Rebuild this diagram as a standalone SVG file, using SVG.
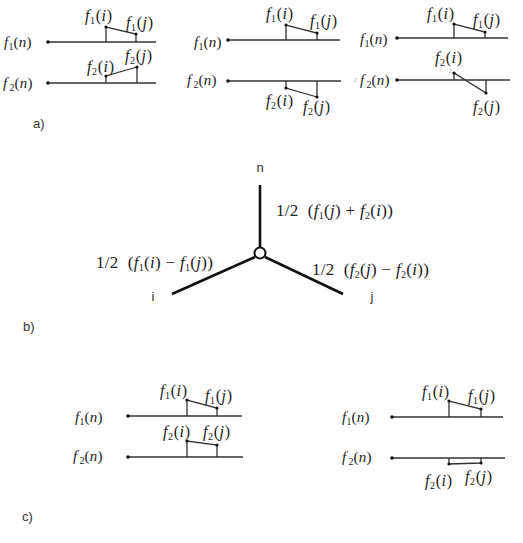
<svg xmlns="http://www.w3.org/2000/svg" width="523" height="543" viewBox="0 0 523 543">
<style>
.bg{fill:#fff}
.ln{stroke:#333;stroke-width:1.3;fill:none}
.bold{stroke:#111;stroke-width:2.6;fill:none;stroke-linecap:butt}
.dot{fill:#111}
.m{font-family:"Liberation Serif","Times New Roman",serif;font-size:16px;font-style:italic;fill:#222;letter-spacing:0.6px}
.mn{font-family:"Liberation Serif","Times New Roman",serif;font-size:15px;font-style:italic;fill:#222;letter-spacing:0.2px}
.eq{font-family:"Liberation Serif","Times New Roman",serif;font-size:17px;fill:#222;letter-spacing:0.3px}
.it{font-style:italic}
.u{font-style:normal}
.s{font-size:10px;font-style:normal}
.lbl{font-family:"Liberation Sans",Arial,sans-serif;font-size:13px;fill:#333}
.tiny{font-family:"Liberation Sans",Arial,sans-serif;font-size:5px;fill:#aaa}
</style>
<rect class="bg" x="0" y="0" width="523" height="543"/>

<!-- a) panel 1 -->
<g id="a1">
  <line class="ln" x1="48" y1="42" x2="156" y2="42"/>
  <circle class="dot" cx="48" cy="42" r="1.8"/>
  <polyline class="ln" points="106,42 106,27 136,34 136,42"/>
  <circle class="dot" cx="106" cy="27" r="1.6"/>
  <circle class="dot" cx="136" cy="34" r="1.6"/>
  <line class="ln" x1="48" y1="83" x2="156" y2="83"/>
  <circle class="dot" cx="48" cy="83" r="1.8"/>
  <polyline class="ln" points="106,83 106,76 137,67 137,83"/>
  <circle class="dot" cx="106" cy="76" r="1.6"/>
  <circle class="dot" cx="137" cy="67" r="1.6"/>
  <text class="mn" x="4" y="47">f<tspan class="s" dy="3">1</tspan><tspan class="u" dy="-3">(</tspan>n<tspan class="u">)</tspan></text>
  <text class="mn" x="3" y="88">f<tspan class="s" dx="2" dy="3">2</tspan><tspan class="u" dy="-3">(</tspan>n<tspan class="u">)</tspan></text>
  <text class="m" x="85" y="21">f<tspan class="s" dy="3">1</tspan><tspan class="u" dy="-3">(</tspan>i<tspan class="u">)</tspan></text>
  <text class="m" x="126" y="28">f<tspan class="s" dy="3">1</tspan><tspan class="u" dy="-3">(</tspan>j<tspan class="u">)</tspan></text>
  <text class="m" x="87" y="72">f<tspan class="s" dy="3">2</tspan><tspan class="u" dy="-3">(</tspan>i<tspan class="u">)</tspan></text>
  <text class="m" x="125" y="61">f<tspan class="s" dy="3">2</tspan><tspan class="u" dy="-3">(</tspan>j<tspan class="u">)</tspan></text>
  <text class="lbl" x="33" y="128">a)</text>
</g>

<!-- a) panel 2 -->
<g id="a2">
  <line class="ln" x1="228" y1="40" x2="340" y2="40"/>
  <circle class="dot" cx="228" cy="40" r="1.8"/>
  <polyline class="ln" points="286,40 286,25 317,33 317,40"/>
  <circle class="dot" cx="286" cy="25" r="1.6"/>
  <circle class="dot" cx="317" cy="33" r="1.6"/>
  <line class="ln" x1="228" y1="81" x2="341" y2="81"/>
  <circle class="dot" cx="228" cy="81" r="1.8"/>
  <polyline class="ln" points="286,81 286,88 317,97 317,81"/>
  <circle class="dot" cx="286" cy="88" r="1.6"/>
  <circle class="dot" cx="317" cy="97" r="1.6"/>
  <text class="mn" x="194" y="47">f<tspan class="s" dy="3">1</tspan><tspan class="u" dy="-3">(</tspan>n<tspan class="u">)</tspan></text>
  <text class="mn" x="187" y="85">f<tspan class="s" dx="2" dy="3">2</tspan><tspan class="u" dy="-3">(</tspan>n<tspan class="u">)</tspan></text>
  <text class="m" x="266" y="19">f<tspan class="s" dy="3">1</tspan><tspan class="u" dy="-3">(</tspan>i<tspan class="u">)</tspan></text>
  <text class="m" x="310" y="26">f<tspan class="s" dy="3">1</tspan><tspan class="u" dy="-3">(</tspan>j<tspan class="u">)</tspan></text>
  <text class="m" x="266" y="106">f<tspan class="s" dy="3">2</tspan><tspan class="u" dy="-3">(</tspan>i<tspan class="u">)</tspan></text>
  <text class="m" x="303" y="112">f<tspan class="s" dy="3">2</tspan><tspan class="u" dy="-3">(</tspan>j<tspan class="u">)</tspan></text>
</g>

<!-- a) panel 3 -->
<g id="a3">
  <line class="ln" x1="397" y1="38" x2="508" y2="38"/>
  <circle class="dot" cx="397" cy="38" r="1.8"/>
  <polyline class="ln" points="454,38 454,24 485,32 485,38"/>
  <circle class="dot" cx="454" cy="24" r="1.6"/>
  <circle class="dot" cx="485" cy="32" r="1.6"/>
  <line class="ln" x1="397" y1="80" x2="510" y2="80"/>
  <circle class="dot" cx="397" cy="80" r="1.8"/>
  <polyline class="ln" points="454,80 454,73 486,93 486,80"/>
  <circle class="dot" cx="454" cy="73" r="1.6"/>
  <circle class="dot" cx="486" cy="93" r="1.6"/>
  <text class="mn" x="360" y="44">f<tspan class="s" dy="3">1</tspan><tspan class="u" dy="-3">(</tspan>n<tspan class="u">)</tspan></text>
  <text class="mn" x="360" y="85">f<tspan class="s" dx="2" dy="3">2</tspan><tspan class="u" dy="-3">(</tspan>n<tspan class="u">)</tspan></text>
  <text class="m" x="427" y="19">f<tspan class="s" dy="3">1</tspan><tspan class="u" dy="-3">(</tspan>i<tspan class="u">)</tspan></text>
  <text class="m" x="473" y="25">f<tspan class="s" dy="3">1</tspan><tspan class="u" dy="-3">(</tspan>j<tspan class="u">)</tspan></text>
  <text class="m" x="435" y="63">f<tspan class="s" dy="3">2</tspan><tspan class="u" dy="-3">(</tspan>i<tspan class="u">)</tspan></text>
  <text class="m" x="473" y="112">f<tspan class="s" dy="3">2</tspan><tspan class="u" dy="-3">(</tspan>j<tspan class="u">)</tspan></text>
  <text class="tiny" x="354" y="82">2</text>
  <text class="tiny" x="449" y="73">2</text>
</g>

<!-- b) star -->
<g id="b-connectors">
  <line class="bold" x1="260" y1="185" x2="260" y2="248"/>
  <line class="bold" x1="255" y1="257" x2="172" y2="294"/>
  <line class="bold" x1="265" y1="257" x2="343" y2="294"/>
</g>
<g id="b-center">
  <circle cx="260" cy="253" r="5.5" fill="#fff" stroke="#111" stroke-width="2"/>
</g>
<g id="b-n"><text class="lbl" x="260" y="172" text-anchor="middle">n</text></g>
<g id="b-i"><text class="lbl" x="153" y="301" text-anchor="middle">i</text></g>
<g id="b-j"><text class="lbl" x="372" y="301" text-anchor="middle">j</text></g>
<g id="b-labels">
  <text class="eq" x="276" y="216" xml:space="preserve">1/2  (<tspan class="it">f</tspan><tspan class="s" dy="3">1</tspan><tspan dy="-3">(</tspan><tspan class="it">j</tspan>) + <tspan class="it">f</tspan><tspan class="s" dy="3">2</tspan><tspan dy="-3">(</tspan><tspan class="it">i</tspan>))</text>
  <text class="eq" x="96" y="268" xml:space="preserve">1/2  (<tspan class="it">f</tspan><tspan class="s" dy="3">1</tspan><tspan dy="-3">(</tspan><tspan class="it">i</tspan>) − <tspan class="it">f</tspan><tspan class="s" dy="3">1</tspan><tspan dy="-3">(</tspan><tspan class="it">j</tspan>))</text>
  <text class="eq" x="312" y="275" xml:space="preserve">1/2  (<tspan class="it">f</tspan><tspan class="s" dy="3">2</tspan><tspan dy="-3">(</tspan><tspan class="it">j</tspan>) − <tspan class="it">f</tspan><tspan class="s" dy="3">2</tspan><tspan dy="-3">(</tspan><tspan class="it">i</tspan>))</text>
  <text class="lbl" x="23" y="331">b)</text>
</g>

<!-- c) panel 1 -->
<g id="c1">
  <line class="ln" x1="128" y1="416" x2="242" y2="416"/>
  <circle class="dot" cx="128" cy="416" r="1.8"/>
  <polyline class="ln" points="187,416 187,400 217,408 217,416"/>
  <circle class="dot" cx="187" cy="400" r="1.6"/>
  <circle class="dot" cx="217" cy="408" r="1.6"/>
  <line class="ln" x1="128" y1="457" x2="243" y2="457"/>
  <circle class="dot" cx="128" cy="457" r="1.8"/>
  <polyline class="ln" points="187,457 187,441 217,445 217,457"/>
  <circle class="dot" cx="187" cy="441" r="1.6"/>
  <circle class="dot" cx="217" cy="445" r="1.6"/>
  <text class="mn" x="75" y="422">f<tspan class="s" dy="3">1</tspan><tspan class="u" dy="-3">(</tspan>n<tspan class="u">)</tspan></text>
  <text class="mn" x="73" y="461">f<tspan class="s" dx="2" dy="3">2</tspan><tspan class="u" dy="-3">(</tspan>n<tspan class="u">)</tspan></text>
  <text class="m" x="160" y="396">f<tspan class="s" dy="3">1</tspan><tspan class="u" dy="-3">(</tspan>i<tspan class="u">)</tspan></text>
  <text class="m" x="205" y="401">f<tspan class="s" dy="3">1</tspan><tspan class="u" dy="-3">(</tspan>j<tspan class="u">)</tspan></text>
  <text class="m" x="163" y="437">f<tspan class="s" dy="3">2</tspan><tspan class="u" dy="-3">(</tspan>i<tspan class="u">)</tspan></text>
  <text class="m" x="203" y="437">f<tspan class="s" dy="3">2</tspan><tspan class="u" dy="-3">(</tspan>j<tspan class="u">)</tspan></text>
</g>

<!-- c) panel 2 -->
<g id="c2">
  <line class="ln" x1="392" y1="417" x2="503" y2="417"/>
  <circle class="dot" cx="392" cy="417" r="1.8"/>
  <polyline class="ln" points="449,417 449,401 481,409 481,417"/>
  <circle class="dot" cx="449" cy="401" r="1.6"/>
  <circle class="dot" cx="481" cy="409" r="1.6"/>
  <line class="ln" x1="392" y1="458" x2="505" y2="458"/>
  <circle class="dot" cx="392" cy="458" r="1.8"/>
  <polyline class="ln" points="449,458 449,464 481,463 481,458"/>
  <circle class="dot" cx="449" cy="464" r="1.6"/>
  <circle class="dot" cx="481" cy="463" r="1.6"/>
  <text class="mn" x="342" y="422">f<tspan class="s" dy="3">1</tspan><tspan class="u" dy="-3">(</tspan>n<tspan class="u">)</tspan></text>
  <text class="mn" x="342" y="462">f<tspan class="s" dx="2" dy="3">2</tspan><tspan class="u" dy="-3">(</tspan>n<tspan class="u">)</tspan></text>
  <text class="m" x="422" y="397">f<tspan class="s" dy="3">1</tspan><tspan class="u" dy="-3">(</tspan>i<tspan class="u">)</tspan></text>
  <text class="m" x="468" y="401">f<tspan class="s" dy="3">1</tspan><tspan class="u" dy="-3">(</tspan>j<tspan class="u">)</tspan></text>
  <text class="m" x="425" y="486">f<tspan class="s" dy="3">2</tspan><tspan class="u" dy="-3">(</tspan>i<tspan class="u">)</tspan></text>
  <text class="m" x="465" y="482">f<tspan class="s" dy="3">2</tspan><tspan class="u" dy="-3">(</tspan>j<tspan class="u">)</tspan></text>
  <text class="lbl" x="22" y="521">c)</text>
</g>
</svg>
